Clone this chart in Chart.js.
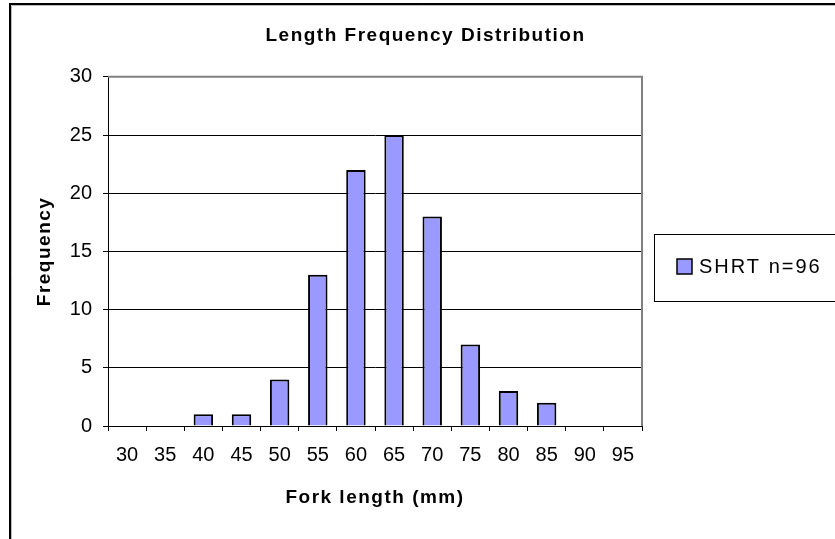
<!DOCTYPE html>
<html>
<head>
<meta charset="utf-8">
<title>Length Frequency Distribution</title>
<script src="https://cdn.jsdelivr.net/npm/chart.js@4.4.0/dist/chart.umd.min.js"></script>
<style>
  html, body { margin: 0; padding: 0; background: #fff; }
  canvas { display: block; }
</style>
</head>
<body>
<canvas id="lengthChart" width="835" height="539"></canvas>
<script>
// data
var lengthBins = ['30', '35', '40', '45', '50', '55', '60', '65', '70', '75', '80', '85', '90', '95'];
var frequencies = [0, 0, 1, 1, 4, 13, 22, 25, 18, 7, 3, 2, 0, 0];
var seriesLabel = 'SHRT n=96';
var yMin = 0;
var yMax = 30;
var yStep = 5;

var barColor = '#9999FF';

Chart.defaults.font.family = '"Liberation Sans", Arial, sans-serif';
Chart.defaults.color = '#000';

// Excel-like spaced bold text for titles, plain text for tick labels
var spacingPlugin = {
  id: 'spacing',
  beforeDraw: function (chart) {
    var ctx = chart.ctx;
    ctx.letterSpacing = '0px';
    ctx.save();
    ctx.fillStyle = '#fff';
    ctx.fillRect(0, 0, chart.width, chart.height);
    // outer chart frame
    ctx.strokeStyle = '#000';
    ctx.lineWidth = 2;
    ctx.beginPath();
    ctx.moveTo(10, chart.height + 5);
    ctx.lineTo(10, 4);
    ctx.lineTo(chart.width + 5, 4);
    ctx.stroke();
    ctx.strokeStyle = '#bbb';
    ctx.lineWidth = 1;
    ctx.beginPath();
    ctx.moveTo(11.5, chart.height + 5);
    ctx.lineTo(11.5, 5.5);
    ctx.lineTo(chart.width + 5, 5.5);
    ctx.stroke();
    ctx.restore();
    ctx.letterSpacing = '1.5px';
  },
  afterDatasetsDraw: function (chart) {
    chart.ctx.letterSpacing = '0px';
  }
};

var plotBorderPlugin = {
  id: 'plotBorder',
  beforeDatasetsDraw: function (chart) {
    var ctx = chart.ctx;
    var a = chart.chartArea;
    ctx.save();
    ctx.strokeStyle = '#808080';
    ctx.lineWidth = 2;
    ctx.beginPath();
    ctx.moveTo(a.left, a.top);
    ctx.lineTo(a.right, a.top);
    ctx.lineTo(a.right, a.bottom);
    ctx.stroke();
    ctx.restore();
  }
};

var legendBoxPlugin = {
  id: 'legendBox',
  afterDraw: function (chart) {
    var ctx = chart.ctx;
    var ds = chart.data.datasets[0];
    ctx.save();
    ctx.letterSpacing = '0px';
    ctx.strokeStyle = '#000';
    ctx.lineWidth = 1;
    ctx.strokeRect(654.5, 234.5, 200, 67);
    ctx.fillStyle = ds.backgroundColor;
    ctx.fillRect(677, 259, 15, 15);
    ctx.lineWidth = 1.5;
    ctx.strokeRect(677, 259, 15, 15);
    ctx.letterSpacing = '2px';
    ctx.fillStyle = '#000';
    ctx.font = '20px "Liberation Sans", Arial, sans-serif';
    ctx.textBaseline = 'middle';
    ctx.textAlign = 'left';
    ctx.fillText(ds.label, 699, 267);
    ctx.restore();
  }
};

function printChart(target) {
  var ctx = document.getElementById(target);
  new Chart(ctx, {
    type: 'bar',
    data: {
      labels: lengthBins,
      datasets: [{
        label: seriesLabel,
        data: frequencies,
        backgroundColor: barColor,
        borderColor: '#000',
        borderWidth: 2,
        borderSkipped: 'start',
        barPercentage: 0.51,
        categoryPercentage: 1
      }]
    },
    options: {
      responsive: false,
      animation: false,
      layout: { padding: { left: 16, top: 0, right: 0, bottom: 0 } },
      plugins: {
        legend: { display: false },
        tooltip: { enabled: false },
        title: {
          display: true,
          text: 'Length Frequency Distribution',
          font: { size: 19, weight: 'bold' },
          color: '#000',
          padding: { top: 24, bottom: 30 }
        }
      },
      scales: {
        x: {
          grid: {
            display: true,
            drawOnChartArea: false,
            drawTicks: true,
            tickLength: 5,
            offset: true,
            tickColor: '#000'
          },
          border: { display: true, color: '#000', width: 1 },
          ticks: {
            font: { size: 20 },
            color: '#000',
            padding: 12,
            maxRotation: 0,
            autoSkip: false,
            z: 1
          },
          title: {
            display: true,
            text: 'Fork length (mm)',
            font: { size: 19, weight: 'bold' },
            color: '#000',
            padding: { top: 0, bottom: 30 }
          },
          afterFit: function (scale) { scale.height = 113; }
        },
        y: {
          min: yMin,
          max: yMax,
          grid: {
            color: function (c) { return c.tick && c.tick.value === yMax ? 'rgba(0,0,0,0)' : '#000'; },
            lineWidth: 1,
            drawTicks: true,
            tickLength: 5,
            tickColor: '#000'
          },
          border: { display: true, color: '#000', width: 1 },
          ticks: {
            stepSize: yStep,
            font: { size: 20 },
            color: '#000',
            padding: 11,
            z: 1
          },
          title: {
            display: true,
            text: 'Frequency',
            font: { size: 19, weight: 'bold' },
            color: '#000',
            padding: { top: 17, bottom: 0 }
          },
          afterFit: function (scale) { scale.width = 92; }
        },
        yRight: {
          type: 'linear',
          position: 'right',
          display: true,
          grid: { display: false },
          border: { display: false },
          ticks: { display: false },
          afterFit: function (scale) { scale.width = 193; }
        }
      }
    },
    plugins: [spacingPlugin, plotBorderPlugin, legendBoxPlugin]
  });
}

printChart('lengthChart');
</script>
</body>
</html>
